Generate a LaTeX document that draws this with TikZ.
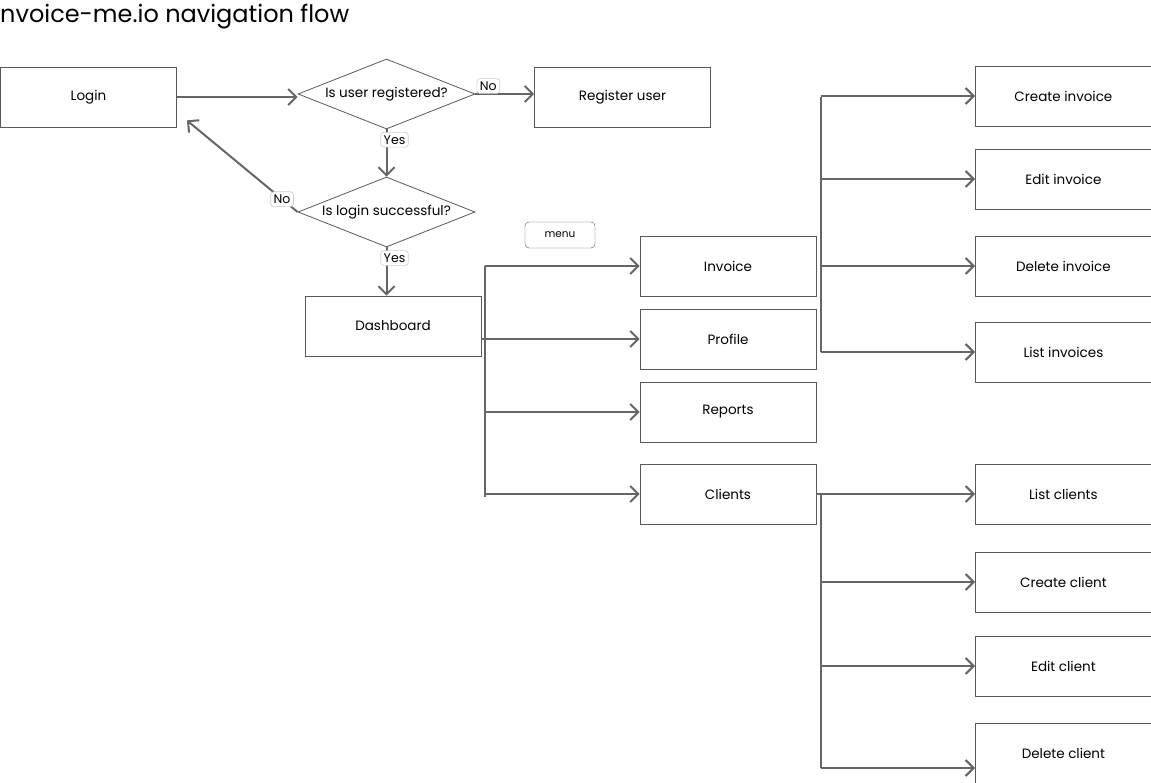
\documentclass[tikz,border=0pt]{standalone}
\usepackage{fontspec}
\setmainfont{Poppins}
\usetikzlibrary{arrows.meta,shapes.geometric}
\begin{document}
\begin{tikzpicture}[x=1pt,y=-1pt,font=\fontsize{13.5}{16}\selectfont,
  screen/.style={draw=black!65,line width=0.8pt,minimum width=176pt,minimum height=60pt,inner sep=0pt},
  action/.style={screen,minimum width=200pt,anchor=west},
  question/.style={diamond,shape aspect=2.5,draw=black!65,line width=0.8pt,minimum width=177pt,minimum height=70pt,inner sep=0pt},
  tag/.style={draw=black!20,line width=0.6pt,fill=white,rounded corners=3pt,inner sep=3pt,font=\fontsize{12.5}{14}\selectfont},
  flow/.style={draw=black!60,line width=2pt,-{Straight Barb[length=8pt,width=16pt,line width=2pt]}},
  trunk/.style={draw=black!60,line width=2pt}]
  \useasboundingbox (0,0) rectangle (1151,783);
  \node[anchor=west,inner sep=0pt,font=\fontsize{24}{28}\selectfont] (title) at (0,17) {nvoice-me.io navigation flow};
  % login part
  \node[screen] (login) at (88.5,97) {Login};
  \node[question] (reg) at (386.5,94) {Is user registered?};
  \node[screen] (register) at (622.5,97) {Register user};
  \node[question] (logok) at (386.5,212) {Is login successful?};
  \node[screen] (dash) at (393,326) {Dashboard};
  \node[draw=black!65,rounded corners=4pt,minimum width=70pt,minimum height=26pt,inner sep=0pt,font=\fontsize{10.5}{12}\selectfont] (menu) at (560,235) {menu};
  \draw[flow] (login.east) -- (login.east -| reg.west);
  \draw[flow] (reg.east) -- node[tag,pos=0.22,yshift=8pt] (no1) {No} (reg.east -| register.west);
  \draw[flow] (reg.south) -- node[tag,pos=0.22,xshift=8pt] (yes1) {Yes} (logok.north);
  \draw[flow] (logok.west) -- node[tag,pos=0.14] (no2) {No} ([shift={(10,-7)}]login.south east);
  \draw[flow] (logok.south) -- node[tag,pos=0.22,xshift=8pt] (yes2) {Yes} (logok.south |- dash.north);
  % menu screens
  \node[screen] (inv) at (728,266) {Invoice};
  \node[screen] (prof) at (728,339) {Profile};
  \node[screen] (rep) at (728,412) {Reports};
  \node[screen] (cli) at (728,494) {Clients};
  \coordinate (dtop) at (485,266);
  \coordinate (dbot) at (485,497);
  \draw[trunk] (dtop) -- (dbot);
  \draw[flow] (dtop) -- (inv.west);
  \draw[flow] (dash.east |- prof.west) -- (prof.west);
  \draw[flow] (dtop |- rep.west) -- (rep.west);
  \draw[flow] (dtop |- cli.west) -- (cli.west);
  % invoice actions
  \node[action] (ci) at (975,96) {\hspace*{-24pt}Create invoice};
  \node[action] (ei) at (975,179) {\hspace*{-24pt}Edit invoice};
  \node[action] (di) at (975,266) {\hspace*{-24pt}Delete invoice};
  \node[action] (li) at (975,352) {\hspace*{-24pt}List invoices};
  \coordinate (itop) at (821,97);
  \coordinate (ibot) at (821,352);
  \draw[trunk] (itop) -- (ibot);
  \foreach \act in {ci,ei,di,li}
    \draw[flow] (itop |- \act.west) -- (\act.west);
  % client actions
  \node[action] (lc) at (975,494) {\hspace*{-24pt}List clients};
  \node[action] (cc) at (975,582) {\hspace*{-24pt}Create client};
  \node[action] (ec) at (975,666) {\hspace*{-24pt}Edit client};
  \node[action] (dc) at (975,753) {\hspace*{-24pt}Delete client};
  \coordinate (ctop) at (821,494);
  \coordinate (cbot) at (821,768);
  \draw[trunk] (ctop) -- (cbot);
  \draw[flow] (cli.east) -- (lc.west);
  \draw[flow] (ctop |- cc.west) -- (cc.west);
  \draw[flow] (ctop |- ec.west) -- (ec.west);
  \draw[flow] (cbot) -- (cbot -| dc.west);
\end{tikzpicture}
\end{document}
